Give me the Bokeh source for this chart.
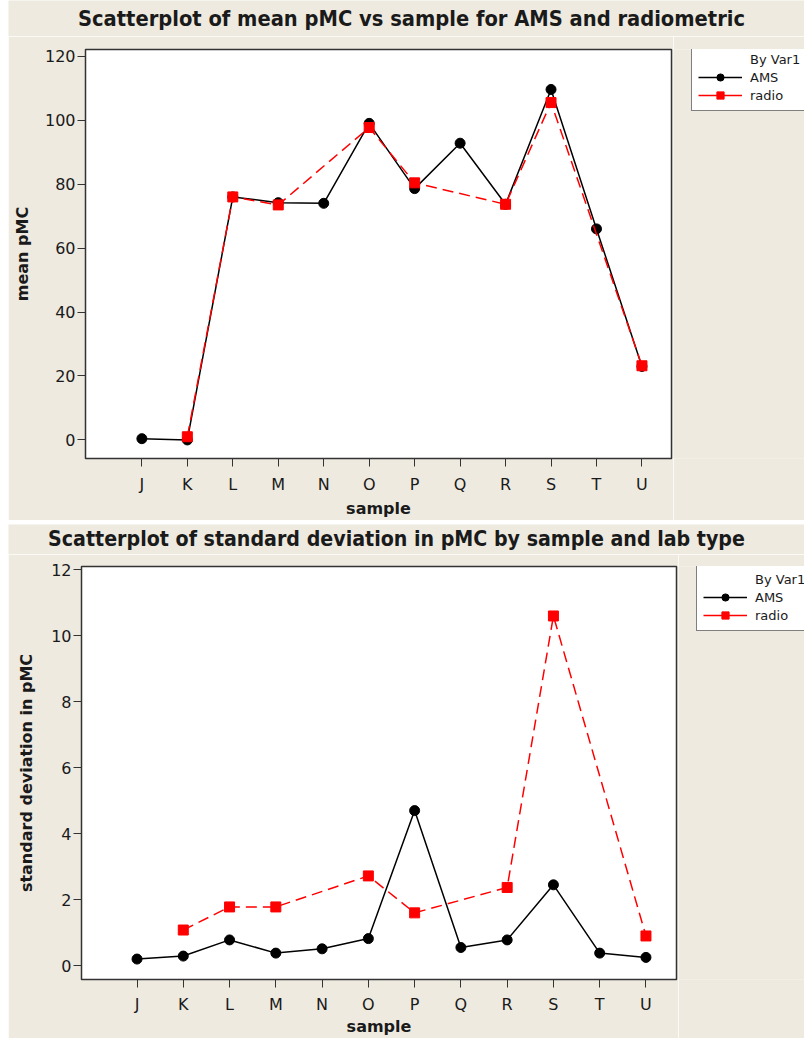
from bokeh.plotting import figure
from bokeh.models import FixedTicker, Range1d, Legend, LegendItem, ColumnDataSource, Label
from bokeh.layouts import column, row
from bokeh.embed import file_html
from bokeh.resources import INLINE

# ---------------- data ----------------
samples = ["J", "K", "L", "M", "N", "O", "P", "Q", "R", "S", "T", "U"]
radio_samples = ["K", "L", "M", "O", "P", "R", "S", "U"]

mean_ams = [0.4, 0.0, 76.0, 74.2, 74.0, 99.0, 78.6, 92.8, 73.7, 109.6, 66.0, 23.0]
mean_radio = [1.0, 76.0, 73.5, 97.7, 80.4, 73.7, 105.5, 23.2]

sd_ams = [0.20, 0.29, 0.78, 0.38, 0.51, 0.82, 4.70, 0.55, 0.78, 2.45, 0.38, 0.25]
sd_radio = [1.08, 1.78, 1.78, 2.72, 1.60, 2.37, 10.6, 0.90]

mean_ticks = [0, 20, 40, 60, 80, 100, 120]
sd_ticks = [0, 2, 4, 6, 8, 10, 12]

legend_title = "By Var1"
series_names = ["AMS", "radio"]

titles = ["Scatterplot of mean pMC vs sample for AMS and radiometric",
          "Scatterplot of standard deviation in pMC by sample and lab type"]
ylabels = ["mean pMC", "standard deviation in pMC"]
xlabel = "sample"

# ---------------- style ----------------
BG = "#EEEAE0"
FONT = "DejaVu Sans"
TFONT = "'DejaVu Sans Condensed', 'DejaVu Sans'"
TXT = "#1a1a1a"
pos = {s: i + 1 for i, s in enumerate(samples)}


def blank(W, H, rng=(0, 1)):
    f = figure(width=W, height=H, output_backend="svg", toolbar_location=None,
               x_range=Range1d(*rng), y_range=Range1d(*rng),
               x_axis_location=None, y_axis_location=None,
               min_border_left=0, min_border_right=0,
               min_border_top=0, min_border_bottom=0)
    f.grid.visible = False
    f.outline_line_color = None
    f.background_fill_color = BG
    f.border_fill_color = BG
    return f


def title_strip(text, W, H, cx, cy, size):
    s = blank(W, H)
    s.add_layout(Label(x=cx, y=cy, x_units="screen", y_units="screen",
                       text=text, text_align="center", text_baseline="middle",
                       text_font=TFONT, text_font_size=size,
                       text_font_style="bold", text_color=TXT))
    return s


def add_series(p, ams, radio, dash="11 6"):
    src_a = ColumnDataSource(dict(x=[pos[s] for s in samples], y=ams))
    src_r = ColumnDataSource(dict(x=[pos[s] for s in radio_samples], y=radio))
    la = p.line("x", "y", source=src_a, line_color="black", line_width=1.5)
    ma = p.scatter("x", "y", source=src_a, marker="circle", size=10,
                   fill_color="black", line_color="black")
    lr = p.line("x", "y", source=src_r, line_color="red", line_width=1.5,
                line_dash=dash)
    mr = p.scatter("x", "y", source=src_r, marker="square", size=10,
                   fill_color="red", line_color="red")
    return la, ma, lr, mr, src_a


def main_plot(ylabel, ams, radio, yticks, yrange, xrange, W, H,
              bl, bt, bb, xl_std, xa_std, ya_std):
    p = figure(width=W, height=H, output_backend="svg", toolbar_location=None,
               x_range=Range1d(*xrange), y_range=Range1d(*yrange),
               min_border_left=bl, min_border_right=2,
               min_border_top=bt, min_border_bottom=bb)
    p.background_fill_color = "white"
    p.border_fill_color = BG
    p.outline_line_color = "#333333"
    p.outline_line_width = 1.5
    p.grid.visible = False

    p.xaxis.ticker = FixedTicker(ticks=[pos[s] for s in samples])
    p.xaxis.major_label_overrides = {pos[s]: s for s in samples}
    p.yaxis.ticker = FixedTicker(ticks=yticks)
    for ax in (p.xaxis, p.yaxis):
        ax.minor_tick_line_color = None
        ax.major_tick_out = 8
        ax.major_tick_in = 0
        ax.major_tick_line_color = "#333333"
        ax.axis_line_color = "#333333"
        ax.major_label_text_font = FONT
        ax.major_label_text_font_size = "16px"
        ax.major_label_text_color = TXT
        ax.axis_label_text_font = FONT
        ax.axis_label_text_font_size = "16px"
        ax.axis_label_text_font_style = "bold"
        ax.axis_label_text_color = TXT
    p.xaxis.axis_label = xlabel
    p.yaxis.axis_label = ylabel
    p.xaxis.major_label_standoff = xl_std
    p.yaxis.major_label_standoff = 2
    p.xaxis.axis_label_standoff = xa_std
    p.yaxis.axis_label_standoff = ya_std
    add_series(p, ams, radio)
    return p


def legend_panel(W, H, lx, ly, label_width, ams, radio):
    # same series drawn far outside this panel's view (clipped), used only
    # as legend proxies
    f = blank(W, H, rng=(-1000, -999))
    la, ma, lr, mr, src_a = add_series(f, ams, radio, dash="solid")
    dummy = f.line("x", "y", source=src_a, line_alpha=0)
    legend = Legend(items=[LegendItem(label=legend_title, renderers=[dummy]),
                           LegendItem(label=series_names[0], renderers=[la, ma]),
                           LegendItem(label=series_names[1], renderers=[lr, mr])],
                    location=(lx, ly))
    legend.border_line_color = "black"
    legend.border_line_width = 1.2
    legend.background_fill_color = "white"
    legend.background_fill_alpha = 1
    legend.label_text_font = FONT
    legend.label_text_font_size = "13px"
    legend.label_text_color = TXT
    legend.glyph_width = 44
    legend.glyph_height = 18
    legend.label_height = 18
    legend.label_width = label_width
    legend.label_standoff = 8
    legend.spacing = 0
    legend.padding = 6
    legend.margin = 0
    f.add_layout(legend)
    return f


# ---- top panel (796 x 520) ----
t1 = title_strip(titles[0], 796, 36, 403, 18, "21.7px")
p1 = main_plot(ylabels[0], mean_ams, mean_radio, mean_ticks,
               (-5.8, 122.1), (-0.24, 12.65), 665, 484,
               77, 13, 58, 8, 2, 10)
# legend frame is aligned with the plot frame (height 413)
g1 = legend_panel(131, 484, 18, 413 - 66, 47, mean_ams, mean_radio)
panel1 = column(t1, row(p1, g1, spacing=0), spacing=0)

# ---- bottom panel (796 x 514) ----
t2 = title_strip(titles[1], 796, 30, 388, 16, "21.2px")
p2 = main_plot(ylabels[1], sd_ams, sd_radio, sd_ticks,
               (-0.42, 12.1), (-0.2, 12.66), 670, 484,
               73, 12, 56, 7, 0, 12)
g2 = legend_panel(126, 484, 18, 416 - 2 - 66, 42, sd_ams, sd_radio)
panel2 = column(t2, row(p2, g2, spacing=0), spacing=0)

layout = column(panel1, panel2, spacing=4, margin=(0, 0, 0, 8))
open("out.html", "w").write(file_html(layout, INLINE))
